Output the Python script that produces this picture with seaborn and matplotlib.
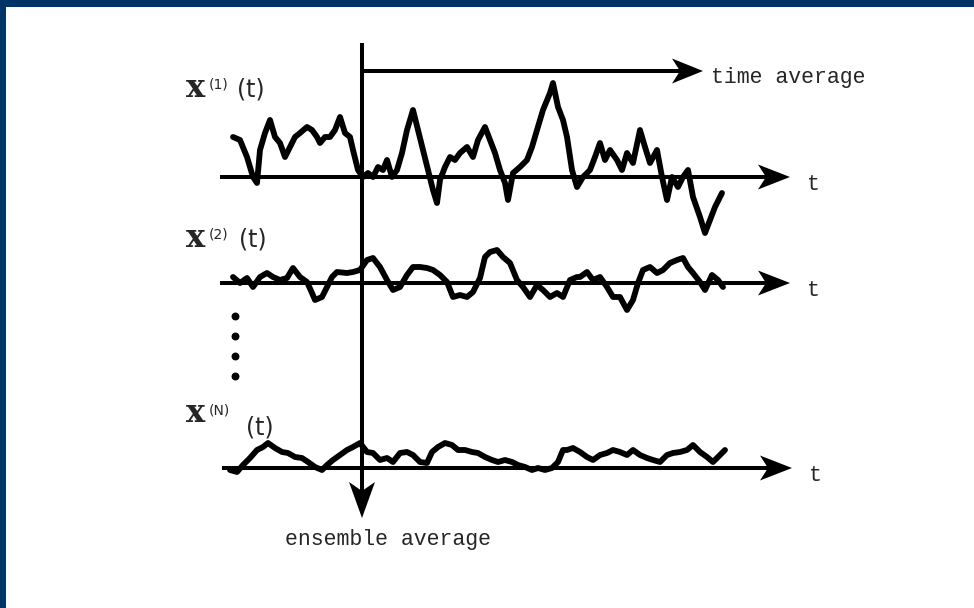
import numpy as np
import matplotlib
matplotlib.use("Agg")
import matplotlib.pyplot as plt
import seaborn as sns
from matplotlib.patches import Rectangle

sns.set_theme(style="white")
plt.rcParams["font.family"] = ["Liberation Mono", "DejaVu Sans Mono"]

# ---------------------------------------------------------------------------
# traces: t position and displacement above the t-axis
# ---------------------------------------------------------------------------
t1 = [233, 240, 247, 253, 257, 260, 265, 270, 275, 280, 285, 290, 295, 300, 307, 312,
      317, 320, 325, 330, 335, 340, 345, 350, 353, 358, 363, 368, 373, 378, 383, 387,
      392, 397, 402, 407, 413, 418, 423, 428, 433, 437, 440, 445, 450, 455, 460, 467,
      473, 478, 485, 490, 495, 500, 505, 508, 513, 520, 527, 532, 537, 543, 550, 553,
      558, 563, 567, 572, 577, 583, 590, 595, 600, 605, 610, 617, 622, 627, 633, 640,
      645, 650, 657, 662, 667, 672, 678, 683, 688, 693, 700, 705, 710, 715, 722]
x1 = [40, 37, 20, 0, -6, 27, 44, 57, 40, 34, 20, 30, 40, 44, 50, 47,
      40, 34, 40, 40, 47, 60, 44, 40, 27, 7, 0, 4, 0, 10, 7, 17,
      0, 7, 24, 47, 67, 47, 27, 7, -13, -26, -3, 10, 20, 17, 24, 30,
      20, 37, 50, 37, 24, 7, -6, -23, 4, 10, 17, 30, 47, 67, 84, 94,
      70, 57, 40, 7, -10, 0, 7, 20, 34, 17, 27, 17, 7, 24, 14, 47,
      30, 14, 27, 0, -23, 0, -10, 0, 7, -20, -40, -56, -43, -30, -16]

t2 = [233, 240, 247, 253, 260, 267, 273, 280, 287, 293, 300, 307, 312, 315, 322, 327,
      332, 337, 347, 353, 360, 367, 373, 380, 387, 393, 400, 407, 413, 420, 427, 433,
      440, 447, 453, 460, 467, 473, 480, 485, 490, 497, 503, 510, 517, 523, 530, 537,
      543, 550, 557, 563, 570, 577, 580, 587, 593, 600, 607, 613, 620, 627, 633, 638,
      643, 650, 657, 663, 670, 677, 683, 688, 693, 700, 705, 712, 718, 723]
x2 = [6, 0, 5, -4, 6, 10, 6, 3, 5, 15, 6, 1, -10, -17, -14, -4,
      6, 11, 10, 11, 13, 23, 25, 16, 3, -7, -4, 8, 16, 16, 15, 13,
      8, 1, -14, -12, -14, -9, 5, 26, 31, 33, 26, 20, 3, -4, -14, -2,
      -7, -14, -10, -14, 3, 6, 6, 11, 3, 6, -4, -14, -14, -27, -17, 0,
      13, 16, 10, 13, 20, 23, 25, 16, 10, 1, -7, 8, 3, -4]

tN = [230, 237, 243, 250, 257, 263, 268, 275, 282, 288, 295, 302, 308, 315, 322, 327,
      333, 340, 347, 353, 360, 367, 373, 380, 387, 393, 400, 407, 413, 420, 427, 432,
      438, 445, 452, 458, 465, 472, 478, 485, 492, 498, 505, 512, 518, 525, 532, 538,
      545, 552, 558, 563, 567, 573, 580, 587, 593, 600, 607, 613, 620, 627, 633, 640,
      647, 653, 660, 667, 673, 680, 687, 693, 700, 707, 713, 720, 725]
xN = [-2, -4, 3, 10, 18, 21, 25, 20, 16, 15, 11, 10, 6, 1, -2, 3,
      8, 13, 18, 21, 25, 16, 15, 8, 10, 6, 15, 16, 13, 6, 5, 16,
      21, 25, 23, 18, 18, 16, 15, 11, 8, 6, 8, 6, 3, 1, -2, 0,
      -2, 0, 6, 18, 18, 20, 16, 11, 8, 13, 15, 18, 16, 13, 18, 13,
      10, 8, 6, 13, 15, 16, 18, 23, 16, 11, 6, 13, 18]

trace_labels = ["(1)", "(2)", "(N)"]

# ---------------------------------------------------------------------------
# layout (pixel space of the slide)
# ---------------------------------------------------------------------------
BASE = [177, 283, 468]
AXIS_X0 = [220, 220, 222]
AXIS_TIP = [790, 790, 792]
LABEL_BASELINE = [97, 247, 422]
PAREN_T_X = [237, 239, 246]
PAREN_T_BASE = [97, 247, 434]
V_X = 362
BLUE = "#003366"
MONO = ["Liberation Mono", "DejaVu Sans Mono"]
SERIF = ["DejaVu Serif"]
LW = 2.9


def head(ax, tip, direction, length=32, half=12.5, notch=8):
    tx, ty = tip
    if direction == "right":
        pts = [(tx, ty), (tx - length, ty - half), (tx - length + notch, ty), (tx - length, ty + half)]
    else:
        pts = [(tx, ty), (tx - half, ty - length), (tx, ty - length + notch), (tx + half, ty - length)]
    xs, ys = zip(*pts)
    ax.fill(xs, ys, color="black", lw=0, zorder=5)


fig = plt.figure(figsize=(9.74, 6.08), dpi=100)
ax = fig.add_axes([0, 0, 1, 1])
ax.set_xlim(0, 974)
ax.set_ylim(608, 0)
ax.axis("off")

# slide frame
ax.add_patch(Rectangle((0, 0), 974, 7, color=BLUE, lw=0))
ax.add_patch(Rectangle((0, 0), 6, 608, color=BLUE, lw=0))

# t-axes with arrowheads
for b, x0, xt in zip(BASE, AXIS_X0, AXIS_TIP):
    ax.plot([x0, xt - 20], [b, b], color="black", lw=LW, solid_capstyle="butt")
    head(ax, (xt, b), "right")
    ax.text(xt + 17, b + 13, "t", fontsize=15.5, family=MONO, ha="left", va="baseline")

# random traces
for t, v, b in zip([t1, t2, tN], [x1, x2, xN], BASE):
    sns.lineplot(x=t, y=b - np.array(v), ax=ax, color="black", lw=4.2,
                 sort=False, estimator=None, legend=False)

# trace labels x^(k) (t)
for lab, yb, px, pb in zip(trace_labels, LABEL_BASELINE, PAREN_T_X, PAREN_T_BASE):
    ax.text(186, yb, "x", fontsize=23, fontweight="bold", family=SERIF, ha="left", va="baseline")
    ax.text(209, yb - 8, lab, fontsize=10, family=["DejaVu Sans"], ha="left", va="baseline")
    ax.text(px, pb, "(t)", fontsize=17, family=["DejaVu Sans"], ha="left", va="baseline")

# vertical dots between x^(2) and x^(N)
ax.scatter([235, 235, 235, 235], [316, 336, 356, 376], s=22, color="black", zorder=4)

# ensemble-average arrow
ax.plot([V_X, V_X], [43, 500], color="black", lw=LW, solid_capstyle="butt")
head(ax, (V_X, 518), "down", length=36, half=13, notch=9)
ax.text(285, 545, "ensemble average", fontsize=15.5, family=MONO, ha="left", va="baseline")

# time-average arrow
ax.plot([V_X, 685], [71, 71], color="black", lw=LW, solid_capstyle="butt")
head(ax, (703, 71), "right", length=31)
ax.text(711, 83, "time average", fontsize=15.5, family=MONO, ha="left", va="baseline")

fig.savefig("out.png", dpi=100)
